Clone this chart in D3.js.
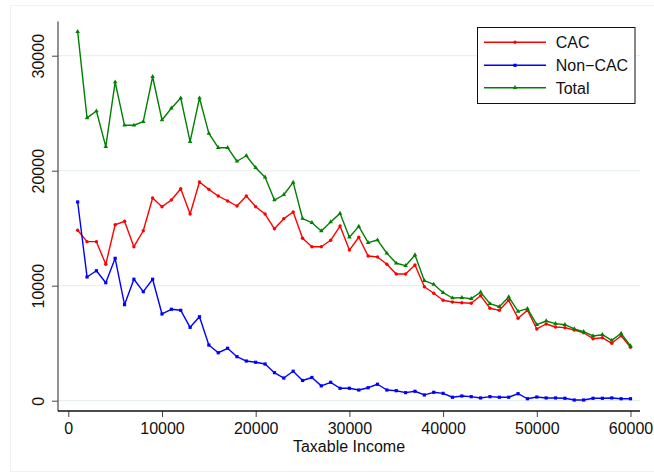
<!DOCTYPE html>
<html>
<head>
<meta charset="utf-8">
<script src="https://cdn.jsdelivr.net/npm/d3@7"></script>
<style>
  body { margin: 0; background: #fff; }
  text { font-family: "Liberation Sans", Arial, Helvetica, sans-serif; fill: #111; }
</style>
</head>
<body>
<div id="chart"></div>
<script>
// ------------------------------------------------------------
// Data
// ------------------------------------------------------------
const income = d3.range(1, 61).map(k => k * 1000);

const cac = [14820, 13830, 13830, 11860, 15300, 15600, 13390, 14780, 17630, 16870,
             17450, 18430, 16230, 19020, 18380, 17800, 17370, 16930, 17800, 16870,
             16230, 14950, 15830, 16410, 14120, 13390, 13390, 13950, 15190, 13100,
             14210, 12580, 12500, 11860, 11020, 11020, 11800, 9910, 9340, 8730,
             8580, 8520, 8470, 9130, 8040, 7860, 8730, 7170, 7860, 6240,
             6670, 6410, 6350, 6150, 5910, 5390, 5480, 4990, 5650, 4640];

const nonCac = [17280, 10760, 11300, 10260, 12380, 8350, 10560, 9480, 10560, 7540,
                7950, 7860, 6380, 7300, 4840, 4170, 4560, 3830, 3450, 3340,
                3190, 2440, 1970, 2560, 1760, 2020, 1290, 1600, 1080, 1080,
                930, 1130, 1430, 930, 870, 700, 820, 500, 730, 640,
                300, 410, 350, 240, 350, 300, 300, 610, 170, 320,
                240, 240, 210, 60, 60, 210, 210, 240, 170, 170];

const total = [32090, 24590, 25190, 22090, 27710, 23950, 23950, 24260, 28170, 24410,
               25430, 26320, 22520, 26320, 23250, 22000, 22000, 20820, 21300, 20260,
               19430, 17450, 17910, 18990, 15840, 15480, 14760, 15540, 16290, 14210,
               15160, 13740, 13970, 12820, 11950, 11740, 12670, 10440, 10120, 9390,
               8930, 8960, 8870, 9430, 8440, 8170, 9020, 7770, 8000, 6610,
               6930, 6700, 6610, 6240, 6000, 5630, 5740, 5250, 5860, 4760];

const xTicks = [0, 10000, 20000, 30000, 40000, 50000, 60000];
const yTicks = [0, 10000, 20000, 30000];

const seriesNames = ["CAC", "Non\u2212CAC", "Total"];
const seriesColors = ["#ff0000", "#0000ff", "#008000"];
const seriesMarks = ["circle", "square", "triangle"];

// ------------------------------------------------------------
// Layout
// ------------------------------------------------------------
const width = 654, height = 473;

const svg = d3.select("#chart")
    .append("svg")
    .attr("width", width)
    .attr("height", height);

// faint outer frame of the graph region
svg.append("rect")
    .attr("x", 10.5).attr("y", 5.5)
    .attr("width", 660).attr("height", 466)
    .attr("fill", "none")
    .attr("stroke", "#eef3f4");

const plotLeft = 58, plotRight = 640, plotTop = 21.5, plotBottom = 411;

const x = d3.scaleLinear().domain([0, 60000]).range([68.3, 630.5]);
const y = d3.scaleLinear().domain([0, 30000]).range([400.7, 55.7]);

// gridlines
svg.append("g")
    .selectAll("line")
    .data(yTicks)
    .enter()
    .append("line")
    .attr("x1", plotLeft).attr("x2", plotRight)
    .attr("y1", d => y(d)).attr("y2", d => y(d))
    .attr("stroke", "#e9f0f1")
    .attr("stroke-width", 1.2);

// y axis
const yAxis = svg.append("g")
    .attr("transform", `translate(${plotLeft},0)`)
    .call(d3.axisLeft(y).tickValues(yTicks).tickSize(6).tickFormat(d3.format("d")));
yAxis.select(".domain").remove();
yAxis.selectAll("line").attr("stroke", "#444");
yAxis.selectAll("text")
    .attr("x", null).attr("dy", null)
    .attr("text-anchor", "middle")
    .attr("transform", "translate(-14.5,0) rotate(-90)")
    .attr("font-size", "16px")
    .style("font-family", "'Liberation Sans', Arial, sans-serif");
svg.append("line")
    .attr("x1", plotLeft).attr("x2", plotLeft)
    .attr("y1", plotTop).attr("y2", plotBottom)
    .attr("stroke", "#555").attr("stroke-width", 1.3);

// x axis
const xAxis = svg.append("g")
    .attr("transform", `translate(0,${plotBottom})`)
    .call(d3.axisBottom(x).tickValues(xTicks).tickSize(6).tickFormat(d3.format("d")));
xAxis.select(".domain").remove();
xAxis.selectAll("line").attr("stroke", "#444");
xAxis.selectAll("text")
    .attr("y", 22.5).attr("dy", null)
    .attr("font-size", "16px")
    .style("font-family", "'Liberation Sans', Arial, sans-serif");
svg.append("line")
    .attr("x1", plotLeft).attr("x2", plotRight)
    .attr("y1", plotBottom).attr("y2", plotBottom)
    .attr("stroke", "#111").attr("stroke-width", 1.3);

svg.append("text")
    .attr("x", 349).attr("y", 451.5)
    .attr("text-anchor", "middle")
    .attr("font-size", "16px")
    .text("Taxable Income");

// ------------------------------------------------------------
// Series
// ------------------------------------------------------------
function drawMarker(g, kind, color, cx, cy) {
    if (kind === "circle") {
        g.append("circle").attr("cx", cx).attr("cy", cy).attr("r", 1.7).attr("fill", color);
    } else if (kind === "square") {
        g.append("rect").attr("x", cx - 1.6).attr("y", cy - 1.6)
            .attr("width", 3.2).attr("height", 3.2).attr("fill", color);
    } else {
        g.append("path")
            .attr("d", d3.symbol().type(d3.symbolTriangle).size(9)())
            .attr("transform", `translate(${cx},${cy})`)
            .attr("fill", color);
    }
}

const line = d3.line()
    .x((d, i) => x(income[i]))
    .y(d => y(d));

[cac, nonCac, total].forEach((values, s) => {
    const g = svg.append("g");
    g.append("path")
        .datum(values)
        .attr("d", line)
        .attr("fill", "none")
        .attr("stroke", seriesColors[s])
        .attr("stroke-width", 1.4)
        .attr("stroke-linejoin", "round");
    values.forEach((v, i) => drawMarker(g, seriesMarks[s], seriesColors[s], x(income[i]), y(v)));
});

// ------------------------------------------------------------
// Legend
// ------------------------------------------------------------
const legend = svg.append("g");
legend.append("rect")
    .attr("x", 477.5).attr("y", 27.5)
    .attr("width", 157.5).attr("height", 76)
    .attr("fill", "#fff")
    .attr("stroke", "#111");

const legendY = [42.3, 65.3, 87.7];
seriesNames.forEach((name, s) => {
    legend.append("line")
        .attr("x1", 484).attr("x2", 546)
        .attr("y1", legendY[s]).attr("y2", legendY[s])
        .attr("stroke", seriesColors[s]).attr("stroke-width", 1.4);
    drawMarker(legend, seriesMarks[s], seriesColors[s], 515, legendY[s]);
    legend.append("text")
        .attr("x", 555.7).attr("y", legendY[s] + 6)
        .attr("font-size", "16px")
        .text(name);
});
</script>
</body>
</html>
